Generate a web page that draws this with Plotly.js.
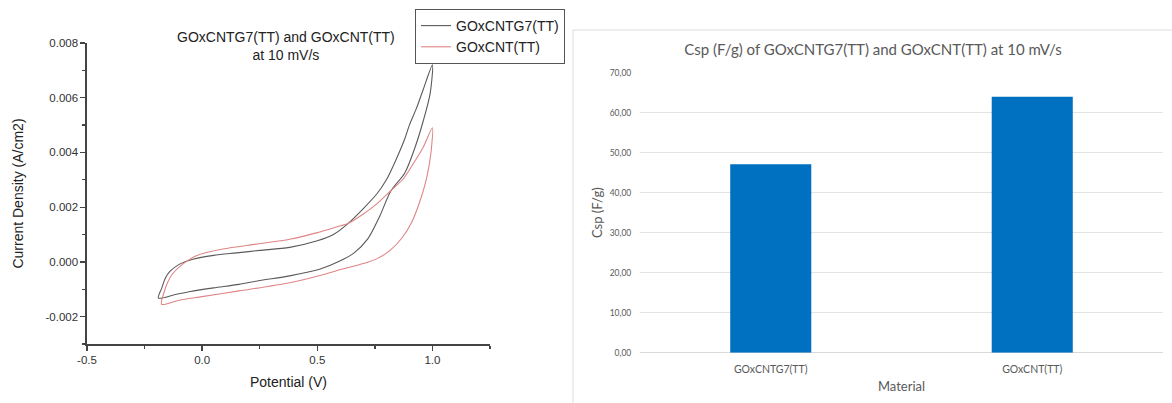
<!DOCTYPE html>
<html>
<head>
<meta charset="utf-8">
<script src="https://cdn.plot.ly/plotly-3.0.1.min.js"></script>
<style>
  html, body { margin: 0; padding: 0; background: #ffffff; }
  #chart { width: 1172px; height: 403px; }
</style>
</head>
<body>
<div id="chart"></div>
<script>
// ---- Cyclic voltammetry data (Potential V, Current density A/cm2) ----
const cntg7Potential = [
  -0.19, -0.175, -0.16, -0.14, -0.10, -0.04, 0.05, 0.15, 0.25, 0.38, 0.50, 0.57, 0.633,
  0.70, 0.76, 0.80, 0.84, 0.88, 0.90, 0.93, 0.96, 1.00,
  0.99, 0.96, 0.925, 0.88, 0.82, 0.77, 0.72, 0.66, 0.60, 0.51, 0.38, 0.25, 0.16, 0.05,
  -0.05, -0.12, -0.19
];
const cntg7Current = [
  -0.00132, -0.00095, -0.00060, -0.00035, -0.00009, 0.00010, 0.00024, 0.00033, 0.00042,
  0.00053, 0.00077, 0.00100, 0.00140, 0.00195, 0.00250, 0.00300, 0.00370, 0.00450,
  0.00500, 0.00560, 0.00630, 0.00720,
  0.00615, 0.00515, 0.00420, 0.00325, 0.00260, 0.00165, 0.00085, 0.00033, 0.00004,
  -0.00027, -0.00051, -0.00068, -0.00082, -0.00095, -0.00108, -0.00120, -0.00132
];
const cntPotential = [
  -0.176, -0.165, -0.15, -0.13, -0.086, -0.028, 0.09, 0.234, 0.38, 0.50, 0.60, 0.633,
  0.70, 0.757, 0.819, 0.873, 0.916, 0.96, 1.00,
  0.995, 0.985, 0.97, 0.945, 0.91, 0.87, 0.82, 0.76, 0.70, 0.60, 0.54, 0.38, 0.16, 0.0,
  -0.10, -0.176
];
const cntCurrent = [
  -0.00155, -0.00110, -0.00075, -0.00045, -0.00009, 0.00022, 0.00047, 0.00065, 0.00083,
  0.00107, 0.00132, 0.00140, 0.00175, 0.00211, 0.00260, 0.00303, 0.00358, 0.00419, 0.00490,
  0.00410, 0.00350, 0.00290, 0.00220, 0.00145, 0.00090, 0.00045, 0.00012, -0.00006,
  -0.00028, -0.00043, -0.00076, -0.00106, -0.00127, -0.00140, -0.00155
];

// ---- Specific capacitance data ----
const materials = ["GOxCNTG7(TT)", "GOxCNT(TT)"];
const cspValues = [47.1, 64.0];

// ---- Tick labels ----
const cvXTickVals = [-0.5, 0.0, 0.5, 1.0];
const cvXTickText = ["-0.5", "0.0", "0.5", "1.0"];
const cvYTickVals = [-0.002, 0.0, 0.002, 0.004, 0.006, 0.008];
const cvYTickText = ["-0.002", "0.000", "0.002", "0.004", "0.006", "0.008"];
const cspTickVals = [0, 10, 20, 30, 40, 50, 60, 70];
const cspTickText = ["0,00", "10,00", "20,00", "30,00", "40,00", "50,00", "60,00", "70,00"];

const W = 1172, H = 403;
const px = v => v / W;
const py = v => 1 - v / H;

const traces = [
  {
    x: cntg7Potential, y: cntg7Current, xaxis: 'x', yaxis: 'y',
    type: 'scatter', mode: 'lines', name: 'GOxCNTG7(TT)',
    line: { color: '#5a5a5a', width: 1.1, shape: 'spline', smoothing: 0.8 }
  },
  {
    x: cntPotential, y: cntCurrent, xaxis: 'x', yaxis: 'y',
    type: 'scatter', mode: 'lines', name: 'GOxCNT(TT)',
    line: { color: '#e08585', width: 1.1, shape: 'spline', smoothing: 0.8 }
  },
  {
    x: materials, y: cspValues, xaxis: 'x2', yaxis: 'y2',
    type: 'bar', showlegend: false,
    marker: { color: '#0070c0' }
  }
];

const cvFont = { family: 'Liberation Sans, Arial, sans-serif', color: '#222222' };
const xlFont = { family: 'Lato, Open Sans, sans-serif', color: '#595959' };

const layout = {
  width: W, height: H,
  margin: { l: 0, r: 0, t: 0, b: 0 },
  paper_bgcolor: '#ffffff',
  plot_bgcolor: 'rgba(0,0,0,0)',
  bargap: 0.69,
  title: {
    text: 'Csp (F/g) of GOxCNTG7(TT) and GOxCNT(TT) at 10 mV/s',
    x: px(873), xref: 'paper', xanchor: 'center',
    y: py(50), yref: 'paper', yanchor: 'middle',
    font: { family: xlFont.family, size: 15, color: '#595959' }
  },
  xaxis: {
    domain: [px(87), px(490)], anchor: 'y',
    range: [-0.5, 1.25],
    tickvals: cvXTickVals, ticktext: cvXTickText,
    ticks: 'outside', ticklen: 5, tickwidth: 1.3, tickcolor: '#444',
    minor: { ticks: 'outside', ticklen: 3, dtick: 0.25, tick0: -0.5, tickcolor: '#444', showgrid: false },
    showline: true, linecolor: '#444', linewidth: 1.6,
    showgrid: false, zeroline: false,
    tickfont: { family: cvFont.family, size: 11.5, color: '#333' },
    title: { text: 'Potential (V)', standoff: 12, font: { family: cvFont.family, size: 14, color: '#222' } }
  },
  yaxis: {
    domain: [py(344), py(43)], anchor: 'x',
    range: [-0.003, 0.008],
    tickvals: cvYTickVals, ticktext: cvYTickText,
    ticks: 'outside', ticklen: 5, tickwidth: 1.3, tickcolor: '#444',
    minor: { ticks: 'outside', ticklen: 3, dtick: 0.001, tick0: 0, tickcolor: '#444', showgrid: false },
    showline: true, linecolor: '#444', linewidth: 1.6,
    showgrid: false, zeroline: false,
    tickfont: { family: cvFont.family, size: 11.5, color: '#333' },
    title: { text: 'Current Density (A/cm2)', standoff: 18, font: { family: cvFont.family, size: 14, color: '#222' } }
  },
  xaxis2: {
    domain: [px(640), px(1163)], anchor: 'y2',
    type: 'category',
    ticks: 'outside', ticklen: 7, tickcolor: 'rgba(0,0,0,0)',
    showline: false, showgrid: false, zeroline: false,
    tickfont: { family: xlFont.family, size: 10.5, color: '#595959' },
    title: { text: 'Material', standoff: 7, font: { family: xlFont.family, size: 13, color: '#595959' } }
  },
  yaxis2: {
    domain: [py(352.7), py(72.7)], anchor: 'x2',
    range: [0, 70],
    tickvals: cspTickVals, ticktext: cspTickText,
    ticks: 'outside', ticklen: 6, tickcolor: 'rgba(0,0,0,0)',
    showline: false, showgrid: true, gridcolor: '#e3e3e3', gridwidth: 1,
    zeroline: true, zerolinecolor: '#d9d9d9', zerolinewidth: 1,
    tickfont: { family: xlFont.family, size: 8.5, color: '#595959' },
    title: { text: 'Csp (F/g)', standoff: 4, font: { family: xlFont.family, size: 13, color: '#595959' } }
  },
  legend: {
    x: px(415), xanchor: 'left', y: py(9), yanchor: 'top',
    bordercolor: '#555', borderwidth: 1, bgcolor: '#ffffff',
    font: { family: cvFont.family, size: 14, color: '#222' },
    tracegroupgap: 0, itemwidth: 30
  },
  annotations: [
    {
      text: 'GOxCNTG7(TT) and GOxCNT(TT)<br>at 10 mV/s',
      xref: 'paper', yref: 'paper', x: px(286), y: py(46),
      xanchor: 'center', yanchor: 'middle', showarrow: false,
      font: { family: cvFont.family, size: 14, color: '#222' }
    }
  ],
  shapes: [
    {
      type: 'rect', xref: 'paper', yref: 'paper',
      x0: px(573), x1: 1.01, y0: -0.02, y1: py(30),
      line: { color: '#dcdcdc', width: 1 }, fillcolor: 'rgba(0,0,0,0)', layer: 'below'
    }
  ]
};

Plotly.newPlot('chart', traces, layout, { displayModeBar: false, staticPlot: true });
</script>
</body>
</html>
